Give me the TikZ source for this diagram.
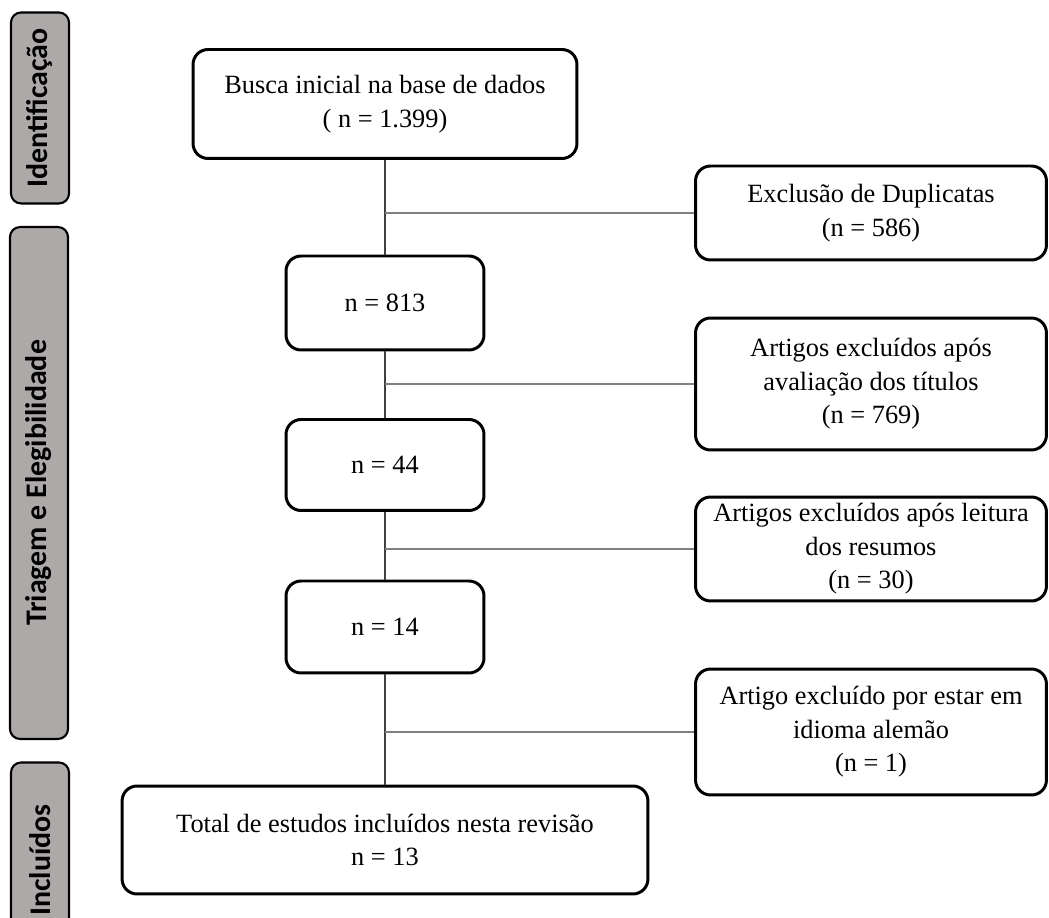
\documentclass[tikz,border=0pt]{standalone}
\usepackage{fontspec}
\setmainfont{Liberation Serif}
\newfontfamily\barfont{Carlito}
\usetikzlibrary{positioning}
\definecolor{prismagray}{RGB}{173,169,169}
\definecolor{linkgray}{RGB}{128,128,128}

\begin{document}
\begin{tikzpicture}[x=0.02cm, y=-0.02cm,
		font=\fontsize{15}{19}\selectfont,
		stage/.style={draw=black, line width=1.7pt, rounded corners=0.3cm,
		              fill=white, align=center, inner sep=2pt},
		phase/.style={draw=black, line width=1.2pt, rounded corners=0.2cm,
		              fill=prismagray, minimum height=1.16cm, rotate=90,
		              font=\barfont\bfseries\fontsize{17}{20}\selectfont},
		link/.style={draw=linkgray, line width=0.7pt}]
		\useasboundingbox (0,0) rectangle (1049,918);
		% fases
		\node[phase, minimum width=3.82cm]  (ident) at (40,108) {Identificação};
		\node[phase, minimum width=10.24cm] (triag) at (39,483) {Triagem e Elegibilidade};
		\node[phase, minimum width=3.9cm]   (incl)  at (40,860) {Incluídos};
		% fluxo principal
		\node[stage, minimum width=7.68cm, minimum height=2.18cm] (busca) at (385,104)
		     {Busca inicial na base de dados\\( n = 1.399)};
		\node[stage, minimum width=3.96cm, minimum height=1.88cm] (n813) at (385,303) {n = 813};
		\node[stage, minimum width=3.96cm, minimum height=1.82cm] (n44) at (385,465) {n = 44};
		\node[stage, minimum width=3.96cm, minimum height=1.84cm] (n14) at (385,627) {n = 14};
		\node[stage, minimum width=10.52cm, minimum height=2.16cm] (total) at (385,840)
		     {Total de estudos incluídos nesta revisão\\n = 13};
		% exclusoes
		\node[stage, minimum width=7.02cm, minimum height=1.88cm] (dup) at (871,213)
		     {Exclusão de Duplicatas\\(n = 586)};
		\node[stage, minimum width=7.02cm, minimum height=2.64cm] (tit) at (871,384)
		     {Artigos excluídos após\\avaliação dos títulos\\(n = 769)};
		\node[stage, minimum width=7.02cm, minimum height=2.08cm] (res) at (871,549)
		     {Artigos excluídos após leitura\\dos resumos\\(n = 30)};
		\node[stage, minimum width=7.02cm, minimum height=2.52cm] (ale) at (871,732)
		     {Artigo excluído por estar em\\idioma alemão\\(n = 1)};
		\foreach \a/\b in {busca/n813, n813/n44, n44/n14, n14/total}
		  \draw[black!75, line width=0.7pt] (\a.south) -- (\b.north);
		\foreach \s/\e in {busca/dup, n813/tit, n44/res, n14/ale}
		  \draw[link] (\s.south |- \e.west) -- (\e.west);
	\end{tikzpicture}
\end{document}
